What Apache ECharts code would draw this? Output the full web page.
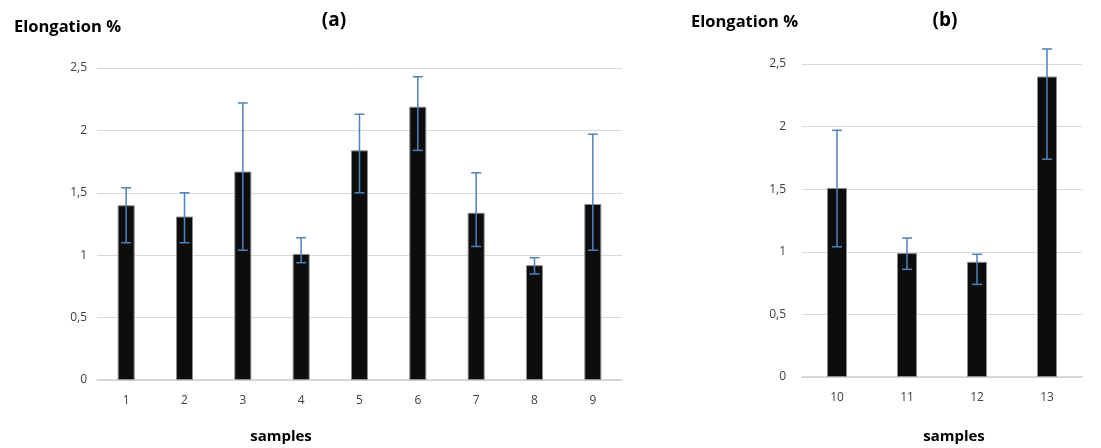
<!DOCTYPE html>
<html>
<head>
<meta charset="utf-8">
<script src="https://cdn.jsdelivr.net/npm/echarts@6/dist/echarts.min.js"></script>
<style>html,body{margin:0;padding:0;background:#fff;}#c{width:1101px;height:448px;}</style>
</head>
<body>
<div id="c"></div>
<script>
const catsA = ['1','2','3','4','5','6','7','8','9'];
const valsA = [1.40, 1.31, 1.67, 1.01, 1.84, 2.19, 1.34, 0.92, 1.41];
const errLowA = [1.10, 1.10, 1.04, 0.94, 1.50, 1.84, 1.07, 0.85, 1.04];
const errHighA = [1.54, 1.50, 2.22, 1.14, 2.13, 2.43, 1.66, 0.98, 1.97];

const catsB = ['10','11','12','13'];
const valsB = [1.51, 0.99, 0.92, 2.40];
const errLowB = [1.04, 0.86, 0.74, 1.74];
const errHighB = [1.97, 1.11, 0.98, 2.62];

const yTicks = [0, 0.5, 1, 1.5, 2, 2.5];

const FONT = '"Open Sans", sans-serif';
const ERR_COLOR = '#4f81bd';

function errRender(capW) {
  return function (params, api) {
    const x = api.value(0);
    const lo = api.coord([x, api.value(1)]);
    const hi = api.coord([x, api.value(2)]);
    const st = { stroke: ERR_COLOR, lineWidth: 1.5 };
    return {
      type: 'group',
      children: [
        { type: 'line', shape: { x1: lo[0], y1: lo[1], x2: hi[0], y2: hi[1] }, style: st },
        { type: 'line', shape: { x1: lo[0] - capW, y1: lo[1], x2: lo[0] + capW, y2: lo[1] }, style: st },
        { type: 'line', shape: { x1: hi[0] - capW, y1: hi[1], x2: hi[0] + capW, y2: hi[1] }, style: st }
      ]
    };
  };
}

function yAxisCfg(gridIndex, margin) {
  return {
    type: 'value', gridIndex, min: yTicks[0], max: yTicks[yTicks.length - 1], interval: 0.5,
    axisLine: { show: false }, axisTick: { show: false },
    axisLabel: { margin, color: '#404040', fontSize: 12, fontFamily: FONT,
      formatter: v => String(v).replace('.', ',') },
    splitLine: { lineStyle: { color: '#d9d9d9', width: 1 } }
  };
}
function xAxisCfg(gridIndex, cats) {
  return {
    type: 'category', gridIndex, data: cats,
    axisLine: { lineStyle: { color: '#d0d0d0', width: 1.5 } }, axisTick: { show: false },
    axisLabel: { margin: 15, color: '#404040', fontSize: 12, fontFamily: FONT }
  };
}

const chart = echarts.init(document.getElementById('c'), null, { renderer: 'canvas' });
chart.setOption({
  backgroundColor: '#ffffff',
  animation: false,
  title: [
    { text: '(a)', left: 329, top: 6, textAlign: 'center', textStyle: { fontSize: 19, fontWeight: 'bold', color: '#000', fontFamily: FONT } },
    { text: 'Elongation %', left: 9, top: 14, textStyle: { fontSize: 16.5, fontWeight: 'bold', color: '#000', fontFamily: FONT } },
    { text: 'samples', left: 276, top: 424, textAlign: 'center', textStyle: { fontSize: 15, fontWeight: 'bold', color: '#000', fontFamily: FONT } },
    { text: '(b)', left: 940, top: 6, textAlign: 'center', textStyle: { fontSize: 19, fontWeight: 'bold', color: '#000', fontFamily: FONT } },
    { text: 'Elongation %', left: 686, top: 9, textStyle: { fontSize: 16.5, fontWeight: 'bold', color: '#000', fontFamily: FONT } },
    { text: 'samples', left: 949, top: 424, textAlign: 'center', textStyle: { fontSize: 15, fontWeight: 'bold', color: '#000', fontFamily: FONT } }
  ],
  grid: [
    { left: 97, top: 68, width: 525, height: 312 },
    { left: 802, top: 64, width: 280, height: 313 }
  ],
  xAxis: [xAxisCfg(0, catsA), xAxisCfg(1, catsB)],
  yAxis: [yAxisCfg(0, 10), yAxisCfg(1, 16)],
  series: [
    { type: 'bar', xAxisIndex: 0, yAxisIndex: 0, data: valsA, barWidth: 17,
      itemStyle: { color: '#0d0d0d', borderColor: '#8c8c8c', borderWidth: 1 } },
    { type: 'custom', xAxisIndex: 0, yAxisIndex: 0, clip: false, z: 5,
      renderItem: errRender(5),
      encode: { x: 0, y: [1, 2] },
      data: catsA.map((c, i) => [i, errLowA[i], errHighA[i]]) },
    { type: 'bar', xAxisIndex: 1, yAxisIndex: 1, data: valsB, barWidth: 20,
      itemStyle: { color: '#0d0d0d', borderColor: '#8c8c8c', borderWidth: 1 } },
    { type: 'custom', xAxisIndex: 1, yAxisIndex: 1, clip: false, z: 5,
      renderItem: errRender(5),
      encode: { x: 0, y: [1, 2] },
      data: catsB.map((c, i) => [i, errLowB[i], errHighB[i]]) }
  ]
});
</script>
</body>
</html>
